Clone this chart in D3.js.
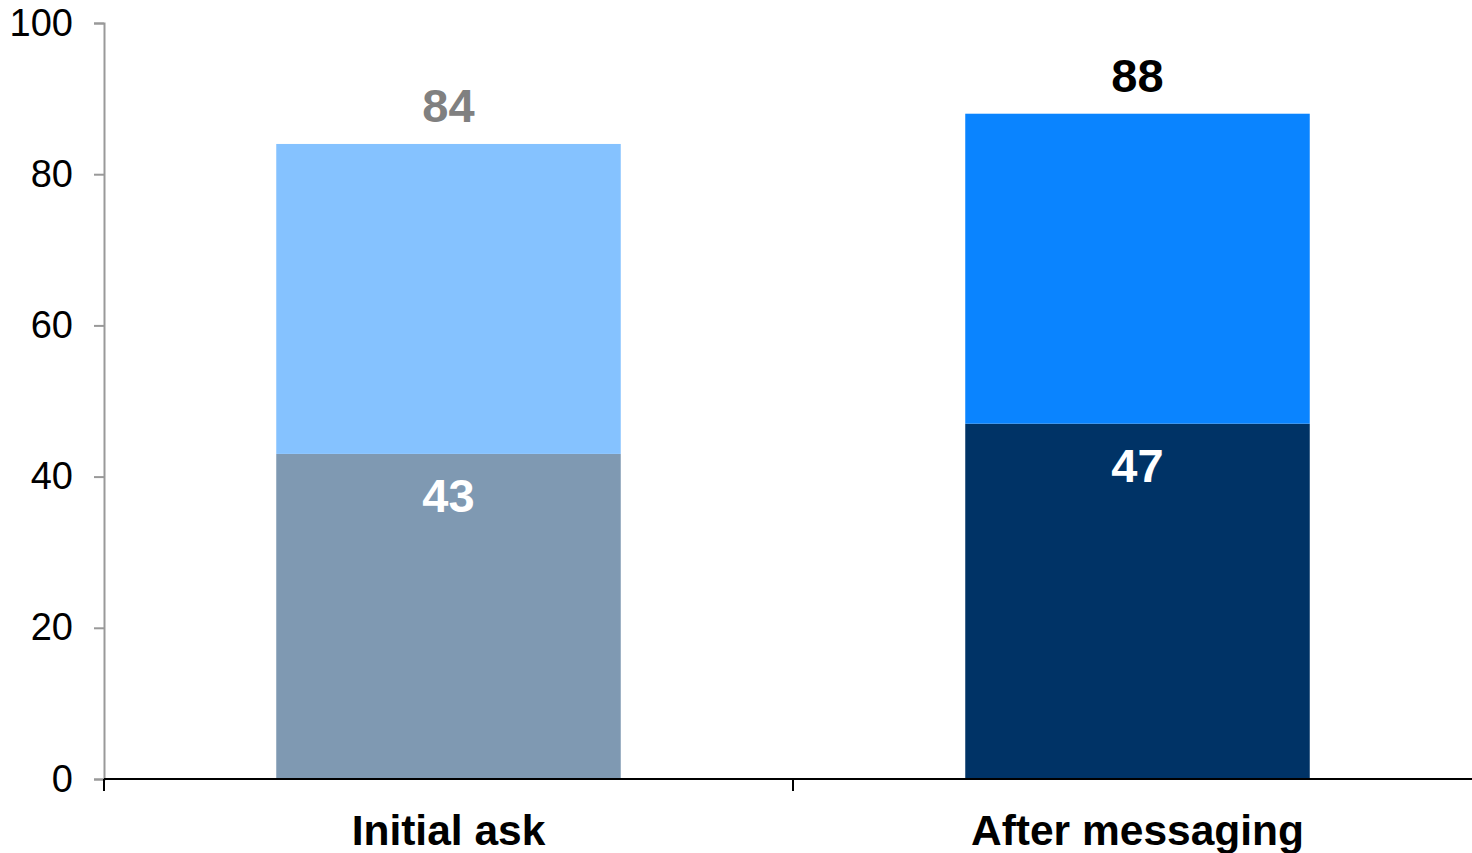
<!DOCTYPE html>
<html>
<head>
<meta charset="utf-8">
<script src="https://cdn.jsdelivr.net/npm/d3@7"></script>
<style>
  html, body { margin: 0; padding: 0; background: #fff; }
  svg { display: block; font-family: "Liberation Sans", Arial, sans-serif; }
</style>
</head>
<body>
<svg id="chart" width="1472" height="853"></svg>
<script>
// Chart data
const categories = ["Initial ask", "After messaging"];
const baseValues = [43, 47];      // lower segment
const totalValues = [84, 88];     // full stack height
const yTicks = [0, 20, 40, 60, 80, 100];

// Colours per category
const baseColors = ["#7f99b2", "#003366"];
const topColors = ["#85c2ff", "#0a84ff"];
const totalLabelColors = ["#808080", "#000000"];

const svg = d3.select("#chart");
const W = 1472, H = 853;

const y = d3.scaleLinear().domain([0, 100]).range([779, 23]);
const x = d3.scaleBand().domain(categories).range([104, 1482])
  .paddingInner(0.5).paddingOuter(0.25);

const rows = categories.map((c, i) => ({
  cat: c, base: baseValues[i], total: totalValues[i], i
}));

// Bars: lower segment and upper segment
const g = svg.append("g");
g.selectAll("rect.base").data(rows).join("rect")
  .attr("class", "base")
  .attr("x", d => x(d.cat))
  .attr("width", x.bandwidth())
  .attr("y", d => y(d.base))
  .attr("height", d => y(0) - y(d.base))
  .attr("fill", d => baseColors[d.i]);

g.selectAll("rect.top").data(rows).join("rect")
  .attr("class", "top")
  .attr("x", d => x(d.cat))
  .attr("width", x.bandwidth())
  .attr("y", d => y(d.total))
  .attr("height", d => y(d.base) - y(d.total))
  .attr("fill", d => topColors[d.i]);

// Value labels
g.selectAll("text.total").data(rows).join("text")
  .attr("class", "total")
  .attr("x", d => x(d.cat) + x.bandwidth() / 2)
  .attr("y", d => y(d.total) - 22)
  .attr("text-anchor", "middle")
  .attr("font-size", 47)
  .attr("font-weight", "bold")
  .attr("fill", d => totalLabelColors[d.i])
  .text(d => d.total);

g.selectAll("text.base").data(rows).join("text")
  .attr("class", "base")
  .attr("x", d => x(d.cat) + x.bandwidth() / 2)
  .attr("y", d => y(d.base) + 58)
  .attr("text-anchor", "middle")
  .attr("font-size", 47)
  .attr("font-weight", "bold")
  .attr("fill", "#ffffff")
  .text(d => d.base);

// Y axis
const yAxis = svg.append("g")
  .attr("transform", "translate(104,0)")
  .call(d3.axisLeft(y).tickValues(yTicks).tickSize(10).tickPadding(21));
yAxis.select(".domain").attr("stroke", "#999").attr("stroke-width", 2);
yAxis.selectAll(".tick line").attr("stroke", "#999").attr("stroke-width", 2);
yAxis.selectAll(".tick text")
  .attr("font-size", 38)
  .attr("font-family", "'Liberation Sans', Arial, sans-serif")
  .attr("fill", "#000");

// X axis: baseline with ticks at category boundaries
const xAxis = svg.append("g");
const [r0, r1] = x.range();
xAxis.append("line")
  .attr("x1", r0).attr("x2", W)
  .attr("y1", y(0)).attr("y2", y(0))
  .attr("stroke", "#000").attr("stroke-width", 2);
const boundaries = d3.range(categories.length + 1).map(k => r0 + k * x.step());
xAxis.selectAll("line.tick").data(boundaries).join("line")
  .attr("class", "tick")
  .attr("x1", d => d).attr("x2", d => d)
  .attr("y1", y(0)).attr("y2", y(0) + 12)
  .attr("stroke", "#000").attr("stroke-width", 2);
xAxis.selectAll("text.cat").data(categories).join("text")
  .attr("class", "cat")
  .attr("x", d => x(d) + x.bandwidth() / 2)
  .attr("y", 845)
  .attr("text-anchor", "middle")
  .attr("font-size", 42.5)
  .attr("font-weight", "bold")
  .attr("fill", "#000")
  .text(d => d);
</script>
</body>
</html>
